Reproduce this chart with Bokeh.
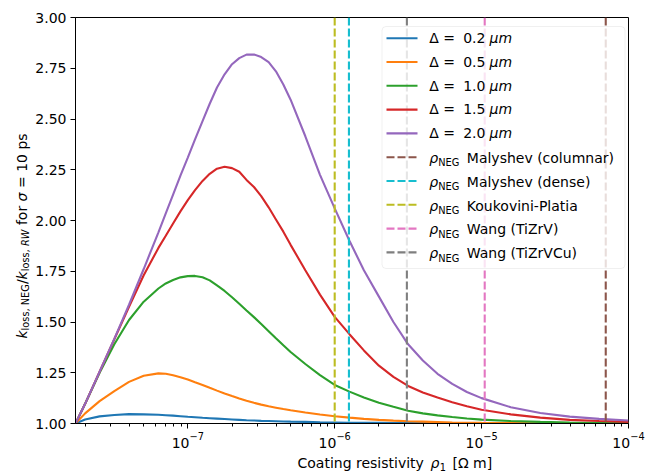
import math
from bokeh.plotting import figure
from bokeh.layouts import row, column
from bokeh.models import (Range1d, FixedTicker, Span, Label, BoxAnnotation, Arrow,
                          LogTickFormatter, PrintfTickFormatter)
from bokeh.embed import file_html
from bokeh.resources import INLINE

# ---------------- data ----------------
rho = [1.72e-8, 2.0e-8, 2.51e-8, 3.16e-8, 3.98e-8, 5.01e-8, 6.31e-8, 7.08e-8,
       7.94e-8, 8.91e-8, 1.0e-7, 1.12e-7, 1.26e-7, 1.41e-7, 1.58e-7, 1.78e-7,
       2.0e-7, 2.24e-7, 2.51e-7, 2.82e-7, 3.16e-7, 3.55e-7, 3.98e-7, 4.47e-7,
       5.01e-7, 6.31e-7, 7.94e-7, 1.0e-6, 1.26e-6, 1.58e-6, 2.0e-6, 2.51e-6,
       3.16e-6, 3.98e-6, 5.01e-6, 6.31e-6, 7.94e-6, 1.0e-5, 1.58e-5, 2.51e-5,
       3.98e-5, 6.31e-5, 1.0e-4]

deltas = [0.2, 0.5, 1.0, 1.5, 2.0]

k_d02 = [1.0, 1.02, 1.035, 1.042, 1.046, 1.045, 1.043, 1.041, 1.039, 1.036, 1.033,
         1.031, 1.028, 1.026, 1.024, 1.022, 1.020, 1.018, 1.016, 1.015, 1.013,
         1.012, 1.011, 1.010, 1.009, 1.008, 1.006, 1.005, 1.004, 1.003, 1.003,
         1.002, 1.002, 1.002, 1.001, 1.001, 1.001, 1.001, 1.0, 1.0, 1.0, 1.0, 1.0]
k_d05 = [1.0, 1.05, 1.11, 1.16, 1.205, 1.235, 1.247, 1.245, 1.238, 1.228, 1.217,
         1.203, 1.19, 1.176, 1.162, 1.148, 1.135, 1.123, 1.112, 1.102, 1.093,
         1.085, 1.078, 1.071, 1.065, 1.054, 1.044, 1.036, 1.029, 1.023, 1.018,
         1.014, 1.011, 1.009, 1.007, 1.005, 1.004, 1.003, 1.002, 1.001, 1.001,
         1.0, 1.0]
k_d10 = [1.0, 1.097, 1.25, 1.39, 1.51, 1.60, 1.665, 1.69, 1.707, 1.72, 1.726,
         1.727, 1.72, 1.705, 1.68, 1.653, 1.622, 1.59, 1.557, 1.524, 1.49, 1.455,
         1.42, 1.385, 1.352, 1.293, 1.238, 1.19, 1.157, 1.128, 1.102, 1.082,
         1.063, 1.05, 1.04, 1.032, 1.025, 1.019, 1.012, 1.008, 1.005, 1.003, 1.002]
k_d15 = [1.0, 1.097, 1.255, 1.415, 1.575, 1.73, 1.865, 1.925, 1.985, 2.045, 2.10,
         2.15, 2.195, 2.23, 2.255, 2.265, 2.258, 2.24, 2.20, 2.165, 2.12, 2.065,
         2.005, 1.945, 1.88, 1.755, 1.635, 1.525, 1.44, 1.36, 1.285, 1.23, 1.185,
         1.153, 1.128, 1.105, 1.085, 1.068, 1.045, 1.029, 1.018, 1.012, 1.008]
k_d20 = [1.0, 1.097, 1.255, 1.417, 1.585, 1.761, 1.942, 2.035, 2.128, 2.221, 2.31,
         2.40, 2.49, 2.575, 2.655, 2.72, 2.77, 2.80, 2.817, 2.818, 2.805, 2.78,
         2.735, 2.67, 2.595, 2.415, 2.225, 2.06, 1.90, 1.755, 1.625, 1.50, 1.39,
         1.31, 1.245, 1.195, 1.155, 1.125, 1.08, 1.052, 1.034, 1.023, 1.015]

neg_names = ["Malyshev (columnar)", "Malyshev (dense)", "Koukovini-Platia",
             "Wang (TiZrV)", "Wang (TiZrVCu)"]
neg_rho = [7.0e-5, 1.25e-6, 1.0e-6, 1.05e-5, 3.1e-6]

y_ticks = [1.0, 1.25, 1.5, 1.75, 2.0, 2.25, 2.5, 2.75, 3.0]
x_ticks = [1e-7, 1e-6, 1e-5, 1e-4]

curve_colors = ["#1f77b4", "#ff7f0e", "#2ca02c", "#d62728", "#9467bd"]
neg_colors = ["#8c564b", "#17becf", "#bcbd22", "#e377c2", "#7f7f7f"]

FONT = "DejaVu Sans"
FS = 14
SUB = 9.8
SHIFT = 0.34     # observed baseline offset of rendered labels, in em

W, H = 645, 474
YW = 32          # width of the strip holding the y label
XH = 20          # height of the strip holding the x label
FL, FT, FR, FB = 73, 17, 628, 423   # frame edges in page pixels

# ---------------- main figure ----------------
p = figure(width=W - YW, height=H - XH, x_axis_type="log",
           x_range=Range1d(min(rho), max(rho)), y_range=Range1d(1.0, 3.0),
           output_backend="svg", toolbar_location=None,
           min_border_left=FL - YW, min_border_right=W - FR, min_border_top=FT,
           min_border_bottom=H - XH - FB)
p.grid.visible = False
p.outline_line_color = "black"
p.outline_line_width = 1
p.background_fill_color = "white"
p.border_fill_color = "white"

series = [k_d02, k_d05, k_d10, k_d15, k_d20]
for vals, c in zip(series, curve_colors):
    assert len(vals) == len(rho)
    p.line(rho, vals, line_color=c, line_width=2.1)

for r, c in zip(neg_rho, neg_colors):
    p.add_layout(Span(location=r, dimension="height", line_color=c,
                      line_width=2.1, line_dash="8 3"))

minor = []
for e in range(-8, -4):
    for m in range(2, 10):
        v = m * 10.0 ** e
        if min(rho) <= v <= max(rho):
            minor.append(v)
p.xaxis.ticker = FixedTicker(ticks=x_ticks, minor_ticks=minor)
p.xaxis.formatter = LogTickFormatter()
p.yaxis.ticker = FixedTicker(ticks=y_ticks)
p.yaxis.formatter = PrintfTickFormatter(format="%.2f")
for ax in (p.xaxis[0], p.yaxis[0]):
    ax.axis_line_color = "black"
    ax.axis_line_width = 1
    ax.major_tick_line_color = "black"
    ax.minor_tick_line_color = "black"
    ax.major_tick_out = 5
    ax.major_tick_in = 0
    ax.minor_tick_out = 3
    ax.minor_tick_in = 0
    ax.major_label_text_font = FONT
    ax.major_label_text_font_size = f"{FS}px"
    ax.major_label_text_color = "black"
    ax.major_label_standoff = 4
p.xaxis[0].major_label_standoff = 3
p.yaxis[0].minor_tick_line_color = None


def lab(fig, text, x, y, size=FS, italic=False, angle=0.0):
    fig.add_layout(Label(x=x, y=y, x_units="screen", y_units="screen",
                         text=text, text_font=FONT, text_font_size=f"{size}px",
                         text_font_style="italic" if italic else "normal",
                         text_color="black", text_align="left",
                         text_baseline="alphabetic", angle=angle))


def hlab(fig, text, px, base_py, bottom_py, left_px, size=FS, italic=False):
    """horizontal text whose baseline sits at page y = base_py"""
    lab(fig, text, px - left_px, bottom_py - base_py + SHIFT * size, size, italic)


# legend (manual, inside the frame; coordinates from page pixels)
p.add_layout(BoxAnnotation(left=379.5 - FL, right=622.5 - FL, top=FB - 26.0,
                           bottom=FB - 268.0, left_units="screen",
                           right_units="screen", top_units="screen",
                           bottom_units="screen", fill_color="white",
                           fill_alpha=0.8, line_color="#cccccc", line_width=1,
                           border_radius=4))
row0, dy = 37.7, 23.8
for i in range(10):
    yc = row0 + i * dy
    if i < 5:
        c, dash = curve_colors[i], "solid"
    else:
        c, dash = neg_colors[i - 5], "8 3"
    p.add_layout(Arrow(x_start=384 - FL, x_end=415 - FL, y_start=FB - yc,
                       y_end=FB - yc, start_units="screen", end_units="screen",
                       start=None, end=None, line_color=c, line_width=2.1,
                       line_dash=dash))
    if i < 5:
        bl = yc + 4.6
        hlab(p, "Δ =", 426.7, bl, FB, FL)
        hlab(p, f"{deltas[i]:.1f}", 460.7, bl, FB, FL)
        hlab(p, "μm", 487.0, bl, FB, FL, italic=True)
    else:
        bl = yc + 5.6
        hlab(p, "ρ", 426.7, bl, FB, FL, italic=True)
        hlab(p, "NEG", 435.7, bl + 3.5, FB, FL, size=SUB)
        hlab(p, neg_names[i - 5], 464.3, bl, FB, FL)


def strip(w, h):
    f = figure(width=w, height=h, x_range=Range1d(0, 1), y_range=Range1d(0, 1),
               output_backend="svg", toolbar_location=None,
               x_axis_location=None, y_axis_location=None, min_border=0,
               outline_line_color=None)
    f.grid.visible = False
    f.background_fill_color = "white"
    f.border_fill_color = "white"
    return f


# y axis label strip (page x 0..YW, y 0..H)
yfig = strip(YW, H)
yb, ys, y0 = 21.0, 24.5, 338.0
ypieces = [("k", 0.0, False, True), ("loss, NEG", 8.1, True, False),
           ("/", 54.4, False, False), ("k", 59.1, False, True),
           ("loss,", 67.2, True, False), ("RW", 92.4, True, True),
           ("for", 113.4, False, False), ("σ", 137.1, False, True),
           ("= 10 ps", 150.5, False, False)]
for t, off, sub, it in ypieces:
    lab(yfig, t, ys if sub else yb, H - (y0 - off), size=SUB if sub else FS,
        italic=it, angle=math.pi / 2)

# x axis label strip (page x YW..W, y H-XH..H)
xfig = strip(W - YW, XH)
xb, x0 = 467.0, 254.0
hlab(xfig, "Coating resistivity", x0, xb, H, YW)
hlab(xfig, "ρ", x0 + 133.0, xb, H, YW, italic=True)
hlab(xfig, "1", x0 + 142.3, xb + 3.0, H, YW, size=SUB)
hlab(xfig, "[Ω m]", x0 + 155.0, xb, H, YW)

layout = row(yfig, column(p, xfig, spacing=0), spacing=0)
open("out.html", "w").write(file_html(layout, INLINE))
